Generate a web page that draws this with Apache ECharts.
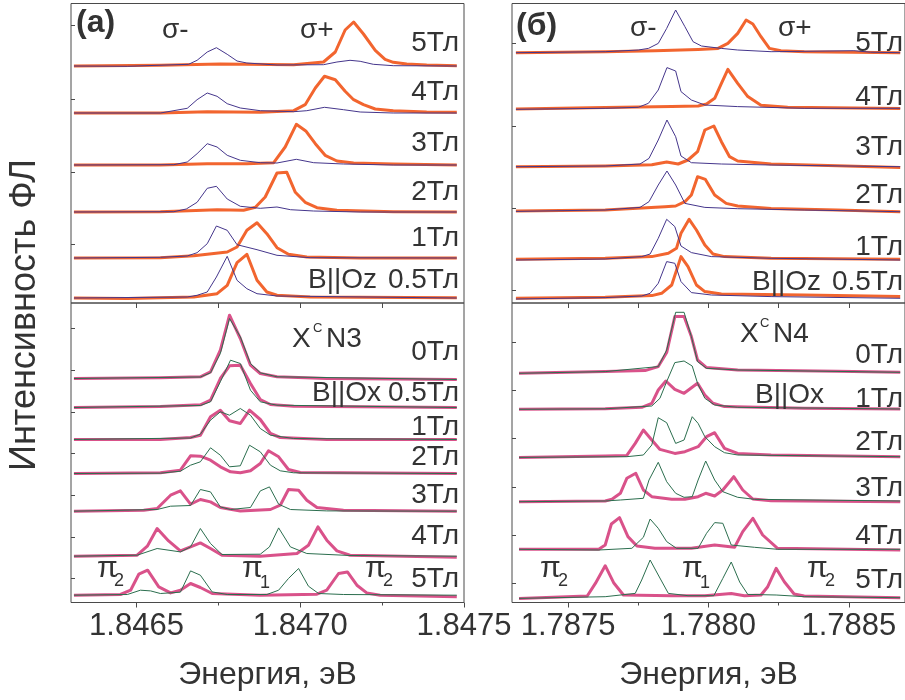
<!DOCTYPE html>
<html><head><meta charset="utf-8">
<script src="https://cdn.jsdelivr.net/npm/echarts@6/dist/echarts.min.js"></script>
<style>html,body{margin:0;padding:0;background:#fff}#c{width:905px;height:700px}</style>
</head><body><div id="c"></div>
<script>
// ---------- tick values ----------
const aXMajor = [1.8465, 1.8470, 1.8475];
const aXMinor = [1.84675, 1.84725];
const bXMajor = [1.7875, 1.7880, 1.7885];
const bXMinor = [1.78775, 1.78825];
const aOzYTicks = [59, 131, 204, 278];
const aOxYTicks = [24.5, 65.5, 107.5, 149.5, 190.5, 232.5, 274.5];
const bOzYTicks = [13, 95, 177, 260];
const bOxYTicks = [19.5, 67.5, 115.5, 164.5, 212.5, 260.5];

// ---------- field labels ----------
const aOzFields = ['5Тл', '4Тл', '3Тл', '2Тл', '1Тл', '0.5Тл'];
const aOxFields = ['0Тл', '0.5Тл', '1Тл', '2Тл', '3Тл', '4Тл', '5Тл'];
const bOzFields = ['5Тл', '4Тл', '3Тл', '2Тл', '1Тл', '0.5Тл'];
const bOxFields = ['0Тл', '1Тл', '2Тл', '3Тл', '4Тл', '5Тл'];

// ---------- vertical offsets of stacked spectra (arb. units) ----------
const aOzOffsets = [237, 190, 138, 91, 45, 5];
const aOxOffsets = [224, 195, 163, 129, 91.3, 46.3, 7.3];
const bOzOffsets = [251.3, 194.7, 136.3, 92.3, 43.7, 4.7];
const bOxOffsets = [230.2, 194.2, 145.8, 101.5, 53.2, 4.8];

// ---------- (a) B||Oz : sigma+ (thick) ----------
const aSigmaPlus = [
 [[1.846309,0],[1.846573,0.7],[1.846756,2],[1.846980,1.3],[1.847071,4],[1.847107,14],[1.847137,36],[1.847163,44],[1.847193,32],[1.847229,15.7],[1.847259,6.7],[1.847284,3.7],[1.847325,2],[1.847386,1],[1.847478,0.3]],
 [[1.846309,0],[1.846573,0],[1.846716,1.3],[1.846878,0.7],[1.846980,2.3],[1.847015,8.3],[1.847046,25],[1.847074,36.7],[1.847107,33.3],[1.847137,21.7],[1.847163,13.3],[1.847193,8.3],[1.847229,4],[1.847284,2.3],[1.847386,1],[1.847478,0.7]],
 [[1.846309,0],[1.846573,0],[1.846716,1.3],[1.846837,1.3],[1.846919,2.3],[1.846954,18],[1.846988,40.7],[1.847018,33.7],[1.847046,21.3],[1.847076,9.7],[1.847112,4],[1.847163,2],[1.847284,1],[1.847478,0]],
 [[1.846309,0],[1.846573,0.3],[1.846746,2.3],[1.846827,1.7],[1.846863,4.7],[1.846893,15],[1.846929,39],[1.846959,39.7],[1.846985,19.7],[1.847015,9.7],[1.847051,4.3],[1.847112,1.7],[1.847284,0.3],[1.847478,0]],
 [[1.846309,0],[1.846573,0.3],[1.846675,2.3],[1.846777,6],[1.846807,11],[1.846837,27.7],[1.846868,35.3],[1.846898,24.3],[1.846929,10.3],[1.846964,3.7],[1.847020,1],[1.847183,0],[1.847478,0]],
 [[1.846309,0],[1.846472,-0.5],[1.846675,1],[1.846746,4.3],[1.846777,12.7],[1.846807,35.3],[1.846837,43.7],[1.846868,17.7],[1.846898,6],[1.846929,2.7],[1.847030,1],[1.847478,0.3]]
];
// ---------- (a) B||Oz : sigma- (thin) ----------
const aSigmaMinus = [
 [[1.846309,0],[1.846472,-0.3],[1.846659,1.7],[1.846685,5.7],[1.846716,14],[1.846744,18.3],[1.846777,11.7],[1.846807,5],[1.846837,3],[1.846929,1],[1.847071,1.3],[1.847112,4],[1.847152,5.7],[1.847183,4.7],[1.847223,1.7],[1.847284,0.3],[1.847478,0]],
 [[1.846309,0],[1.846573,0],[1.846655,4.7],[1.846685,13.3],[1.846716,20],[1.846746,16.7],[1.846777,9.3],[1.846817,5],[1.846878,2.3],[1.846980,1.3],[1.847020,2.3],[1.847074,5.7],[1.847132,3.3],[1.847183,1],[1.847284,0],[1.847478,0]],
 [[1.846309,0],[1.846614,0.3],[1.846655,3],[1.846685,11.3],[1.846716,21.3],[1.846746,18],[1.846777,9.7],[1.846817,4.7],[1.846878,2.3],[1.846929,2],[1.846988,5.7],[1.847041,2.3],[1.847132,1],[1.847284,0],[1.847478,0]],
 [[1.846309,0],[1.846614,0.3],[1.846652,3],[1.846685,9.7],[1.846716,23.7],[1.846744,25.7],[1.846777,13],[1.846817,5.7],[1.846878,3.7],[1.846929,5],[1.846970,2.3],[1.847041,1],[1.847183,0],[1.847478,0]],
 [[1.846309,0],[1.846573,0.7],[1.846655,2],[1.846685,5.3],[1.846716,14.3],[1.846744,32],[1.846777,27.7],[1.846807,13.3],[1.846868,8.3],[1.846929,2.7],[1.847030,0.3],[1.847478,0]],
 [[1.846309,0],[1.846655,1],[1.846685,2.7],[1.846716,6],[1.846744,21],[1.846777,41.7],[1.846807,17.7],[1.846837,9.3],[1.846868,4.3],[1.846929,2],[1.847478,0]]
];
// ---------- (a) B||Ox : thick (pink) ----------
const aPiThick = [
 [[1.846309,0],[1.846573,0.7],[1.846695,1.7],[1.846726,6.7],[1.846756,28.3],[1.846784,63.3],[1.846817,40],[1.846848,13.3],[1.846878,5],[1.846929,1.7],[1.847081,0],[1.847478,-1]],
 [[1.846309,0],[1.846573,1],[1.846695,2.7],[1.846726,7.3],[1.846756,29],[1.846784,41.7],[1.846817,42.3],[1.846848,24],[1.846878,8],[1.846909,3],[1.846980,1.3],[1.847478,0]],
 [[1.846309,0],[1.846573,0],[1.846665,2],[1.846695,4.3],[1.846726,22.7],[1.846756,29.3],[1.846784,18.7],[1.846817,16],[1.846845,29.3],[1.846878,20],[1.846909,6],[1.846939,2],[1.847081,0],[1.847478,0]],
 [[1.846309,0],[1.846573,0.7],[1.846634,3.3],[1.846665,17.7],[1.846695,17.3],[1.846726,13.3],[1.846756,6.7],[1.846787,1.7],[1.846817,0.7],[1.846848,2.7],[1.846878,10],[1.846903,22.7],[1.846934,16.7],[1.846964,4],[1.847000,1],[1.847478,0]],
 [[1.846309,0],[1.846522,1],[1.846563,2.7],[1.846604,16],[1.846634,20.3],[1.846665,7],[1.846695,11.7],[1.846726,9.3],[1.846756,3.7],[1.846817,0.3],[1.846909,1.7],[1.846939,6],[1.846964,21.7],[1.846995,21],[1.847020,11],[1.847051,3.7],[1.847132,1],[1.847478,0]],
 [[1.846309,0],[1.846502,1],[1.846533,10],[1.846563,27.7],[1.846598,15.3],[1.846634,5.3],[1.846665,9.3],[1.846695,13.3],[1.846726,7.7],[1.846761,1],[1.846878,0],[1.846990,2.7],[1.847025,11],[1.847054,29.3],[1.847081,16],[1.847112,5.3],[1.847152,1],[1.847478,-1]],
 [[1.846309,0],[1.846451,0.7],[1.846482,5],[1.846507,21],[1.846534,25],[1.846568,8.3],[1.846604,2.3],[1.846634,5],[1.846665,11.7],[1.846695,7.7],[1.846731,1.7],[1.846878,0],[1.847051,1],[1.847081,5],[1.847117,21.7],[1.847144,23.3],[1.847173,10],[1.847203,2.3],[1.847244,0],[1.847478,-1.5]]
];
// ---------- (a) B||Ox : thin (green) ----------
const aPiThin = [
 [[1.846309,0],[1.846695,1.5],[1.846726,5.7],[1.846756,25],[1.846784,60],[1.846817,41.7],[1.846848,15],[1.846878,5.7],[1.846929,1.7],[1.847478,-1]],
 [[1.846309,0],[1.846695,2],[1.846726,5.7],[1.846756,25.7],[1.846787,47.3],[1.846817,44],[1.846848,17.3],[1.846878,5.7],[1.846929,2.3],[1.847478,0]],
 [[1.846309,0],[1.846665,1.5],[1.846695,5.3],[1.846726,19.3],[1.846756,27.7],[1.846784,24.3],[1.846817,31],[1.846848,24.3],[1.846878,11],[1.846909,4.3],[1.846980,1],[1.847478,0]],
 [[1.846309,0],[1.846573,0.3],[1.846634,2.3],[1.846665,8.3],[1.846695,11.7],[1.846726,25.7],[1.846756,18.3],[1.846784,6.7],[1.846817,7.7],[1.846845,28.3],[1.846878,21.7],[1.846909,8.3],[1.846939,2.7],[1.846980,0.7],[1.847478,0]],
 [[1.846309,0],[1.846563,1.7],[1.846604,5],[1.846665,5.7],[1.846695,21.7],[1.846726,19.3],[1.846756,4.3],[1.846787,1.7],[1.846848,3.7],[1.846878,20.3],[1.846906,24.3],[1.846934,7],[1.846970,1.7],[1.847081,0.3],[1.847478,0]],
 [[1.846309,0],[1.846502,1],[1.846563,7.7],[1.846634,4.3],[1.846665,9.3],[1.846695,27.7],[1.846726,12.7],[1.846761,1.7],[1.846878,2],[1.846906,9.3],[1.846934,28.3],[1.846970,9.3],[1.847020,2.7],[1.847152,0.7],[1.847478,0]],
 [[1.846309,0],[1.846472,0.7],[1.846512,5],[1.846543,4.3],[1.846573,1.7],[1.846634,3],[1.846665,24.3],[1.846695,20],[1.846731,3.3],[1.846777,0.7],[1.846898,0.7],[1.846934,5],[1.846964,16.7],[1.846995,26.7],[1.847025,9],[1.847056,1.7],[1.847132,0.7],[1.847478,0]]
];
// ---------- (б) B||Oz : sigma+ (thick) ----------
const bSigmaPlus = [
 [[1.787314,-1],[1.787632,0],[1.787809,1],[1.787963,2.3],[1.788034,3.3],[1.788069,8.3],[1.788104,18.3],[1.788134,31.7],[1.788158,27.7],[1.788187,15],[1.788217,3.3],[1.788258,1],[1.788341,0],[1.788683,-1]],
 [[1.787314,-0.7],[1.787632,0.7],[1.787869,1.7],[1.787963,2.3],[1.787993,4.3],[1.788022,10],[1.788046,25],[1.788069,39],[1.788104,25],[1.788140,11.7],[1.788187,3],[1.788282,1],[1.788683,-0.3]],
 [[1.787314,0],[1.787632,0.7],[1.787798,2],[1.787851,4.7],[1.787892,2.7],[1.787927,6.7],[1.787961,15],[1.787987,36.7],[1.788019,40.7],[1.788046,25],[1.788075,10],[1.788104,5.7],[1.788223,2.7],[1.788459,1],[1.788683,-0.7]],
 [[1.787314,-0.3],[1.787632,0.7],[1.787845,4],[1.787883,4.7],[1.787916,9],[1.787939,15.7],[1.787961,34],[1.787989,31.3],[1.788022,15.7],[1.788063,7.3],[1.788104,4.7],[1.788223,2.3],[1.788459,0.7],[1.788683,-1]],
 [[1.787314,0],[1.787632,1],[1.787798,2.7],[1.787857,6],[1.787886,11],[1.787902,26],[1.787931,40],[1.787957,29.3],[1.787987,14.3],[1.788016,5.3],[1.788057,2.7],[1.788223,1],[1.788683,0]],
 [[1.787314,0],[1.787632,1],[1.787798,2.7],[1.787833,5],[1.787869,13.3],[1.787902,41.7],[1.787927,31.7],[1.787957,13.3],[1.787987,6.7],[1.788046,4.3],[1.788341,3.3],[1.788683,1.7]]
];
// ---------- (б) B||Oz : sigma- (thin) ----------
const bSigmaMinus = [
 [[1.787314,-1],[1.787632,0],[1.787750,1.7],[1.787786,3.3],[1.787821,8.3],[1.787851,23.3],[1.787883,41.7],[1.787916,25],[1.787945,10],[1.787975,5.7],[1.788046,3.3],[1.788104,1.7],[1.788223,0],[1.788518,1],[1.788577,-0.5],[1.788683,-1]],
 [[1.787314,-1],[1.787632,0],[1.787750,1],[1.787786,5],[1.787821,18.3],[1.787852,40.7],[1.787883,37.3],[1.787902,16.7],[1.787939,8.3],[1.787987,3.3],[1.788104,1.7],[1.788341,0],[1.788683,0]],
 [[1.787314,0],[1.787632,0.7],[1.787756,2.7],[1.787788,8.3],[1.787821,26.7],[1.787852,46.7],[1.787883,30],[1.787902,10.7],[1.787939,4],[1.788046,2.7],[1.788223,1.7],[1.788683,0]],
 [[1.787314,-0.7],[1.787632,0.7],[1.787756,3.3],[1.787788,9],[1.787821,25.7],[1.787852,39.7],[1.787883,25.7],[1.787916,7.3],[1.787987,3.3],[1.788104,2],[1.788341,0.7],[1.788683,-1]],
 [[1.787314,-0.7],[1.787632,0.3],[1.787762,2.7],[1.787792,5.3],[1.787821,21],[1.787851,40],[1.787880,32.7],[1.787902,13.3],[1.787939,6.7],[1.788010,2.7],[1.788223,1],[1.788683,-0.7]],
 [[1.787314,-0.7],[1.787632,0.7],[1.787762,2.3],[1.787792,5],[1.787821,15],[1.787851,36.7],[1.787880,35],[1.787902,16.7],[1.787939,5.7],[1.788010,3.3],[1.788223,1.7],[1.788683,0]]
];
// ---------- (б) B||Ox : thick (pink) ----------
const bPiThick = [
 [[1.787325,-1],[1.787632,0.7],[1.787774,1.7],[1.787821,5.7],[1.787851,19.7],[1.787880,55.7],[1.787913,55.7],[1.787939,35.7],[1.787961,12.3],[1.787993,4.7],[1.788104,2.3],[1.788459,1],[1.788683,0]],
 [[1.787325,-1],[1.787632,-0.5],[1.787762,1],[1.787798,5],[1.787821,18.3],[1.787848,27.3],[1.787880,19],[1.787913,15],[1.787961,25],[1.787987,13.3],[1.788016,5],[1.788057,1.7],[1.788341,0],[1.788683,-0.7]],
 [[1.787325,-0.7],[1.787632,0.7],[1.787709,1.3],[1.787739,13.3],[1.787768,26.7],[1.787798,16.7],[1.787827,7.3],[1.787880,3.3],[1.787916,5],[1.787963,10],[1.787993,20],[1.788022,24],[1.788057,8.3],[1.788104,3.3],[1.788223,1.7],[1.788683,0]],
 [[1.787325,-0.7],[1.787632,0],[1.787656,1.7],[1.787686,7.7],[1.787709,22.7],[1.787741,27.7],[1.787768,11],[1.787798,4.3],[1.787869,1.7],[1.787916,1.7],[1.787963,4.3],[1.787990,7.7],[1.788022,5],[1.788051,11],[1.788090,24.3],[1.788122,11],[1.788158,2],[1.788223,0.3],[1.788683,-0.7]],
 [[1.787325,0],[1.787609,0],[1.787632,4.3],[1.787654,25.3],[1.787683,31.7],[1.787713,12.7],[1.787745,3.3],[1.787809,1],[1.787939,1],[1.788022,4.3],[1.788093,2],[1.788122,17.7],[1.788158,31],[1.788193,14.3],[1.788246,1],[1.788683,-0.7]],
 [[1.787325,-0.7],[1.787568,1.7],[1.787597,14.3],[1.787632,32],[1.787662,15],[1.787697,2.7],[1.787869,2],[1.787987,2],[1.788081,4.3],[1.788128,2],[1.788187,2.7],[1.788211,11],[1.788241,29.3],[1.788270,16],[1.788305,3.7],[1.788341,1.7],[1.788683,0]]
];
// ---------- (б) B||Ox : thin (green) ----------
const bPiThin = [
 [[1.787325,-1],[1.787632,0.7],[1.787821,5.7],[1.787851,22.3],[1.787883,60],[1.787913,60],[1.787939,35.7],[1.787961,10.7],[1.787993,4],[1.788104,2.3],[1.788683,0]],
 [[1.787325,-1],[1.787632,-0.5],[1.787798,2.3],[1.787827,10],[1.787851,26.7],[1.787880,45.7],[1.787913,47.3],[1.787942,42.3],[1.787961,25],[1.787987,10],[1.788022,3.3],[1.788104,1],[1.788683,-0.7]],
 [[1.787325,-0.7],[1.787709,0],[1.787768,1.7],[1.787798,11.7],[1.787821,39],[1.787851,34],[1.787883,13.3],[1.787913,16.7],[1.787942,40],[1.787963,33.3],[1.787987,20],[1.788022,10],[1.788057,4],[1.788104,1.7],[1.788683,0]],
 [[1.787325,-0.7],[1.787632,0],[1.787686,1],[1.787768,2.7],[1.787788,21],[1.787821,38.7],[1.787851,19.3],[1.787883,7.7],[1.787913,3.7],[1.787942,4.3],[1.787963,21],[1.787990,40],[1.788022,21],[1.788051,9.3],[1.788104,3.7],[1.788164,1.7],[1.788683,0]],
 [[1.787325,0],[1.787609,-0.7],[1.787727,1],[1.787768,12],[1.787792,30.3],[1.787821,21],[1.787851,7.7],[1.787886,1],[1.787963,1],[1.787993,16],[1.788022,26.7],[1.788051,26],[1.788081,4.3],[1.788164,2],[1.788246,0],[1.788683,0]],
 [[1.787325,-0.7],[1.787632,1],[1.787739,4.3],[1.787762,17.7],[1.787792,37.7],[1.787821,22.7],[1.787857,4.3],[1.787927,2],[1.788019,2],[1.788051,19.3],[1.788081,35.7],[1.788111,15.7],[1.788140,3.3],[1.788241,2.7],[1.788341,1],[1.788683,0]]
];

// ---------- styling ----------
const ORANGE = '#F2652F', PURPLE = '#45368C', PINK = '#D9528A', GREEN = '#2B6E4E';
const FRAME = '#4a4a4a', TXT = '#333333';
const FONT = '"Liberation Sans", Arial, Helvetica, sans-serif';

function build(curves, offsets, gi, color, width, z) {
  return curves.map((c, i) => ({
    type: 'line', xAxisIndex: gi === 0 ? 0 : gi === 1 ? 1 : gi === 2 ? 3 : 4,
    yAxisIndex: gi, symbol: 'none', showSymbol: false, silent: true,
    data: c.map(p => [p[0], p[1] + offsets[i]]),
    lineStyle: { color, width, join: 'round' }, itemStyle: { color }, z
  }));
}

const series = [].concat(
  build(aSigmaPlus, aOzOffsets, 0, ORANGE, 3, 2),
  build(aSigmaMinus, aOzOffsets, 0, PURPLE, 1, 3),
  build(aPiThick, aOxOffsets, 1, PINK, 3, 2),
  build(aPiThin, aOxOffsets, 1, GREEN, 1, 3),
  build(bSigmaPlus, bOzOffsets, 2, ORANGE, 3, 2),
  build(bSigmaMinus, bOzOffsets, 2, PURPLE, 1, 3),
  build(bPiThick, bOxOffsets, 3, PINK, 3, 2),
  build(bPiThin, bOxOffsets, 3, GREEN, 1, 3)
);

const gridBase = { show: true, borderColor: FRAME, borderWidth: 1, backgroundColor: 'transparent', containLabel: false };
const grids = [
  Object.assign({ left: 71, top: 3.5, width: 393, height: 299.5 }, gridBase),
  Object.assign({ left: 71, top: 303, width: 393, height: 299.5 }, gridBase),
  Object.assign({ left: 512, top: 3.5, width: 394.5, height: 299.5 }, gridBase),
  Object.assign({ left: 512, top: 303, width: 394.5, height: 299.5 }, gridBase)
];

function topAxis(gi, min, max, ticks) {
  return { type: 'value', gridIndex: gi, position: 'top', min, max,
    axisLine: { show: false }, splitLine: { show: false }, axisLabel: { show: false },
    axisTick: { show: true, inside: true, length: 5, customValues: ticks, lineStyle: { color: FRAME } } };
}
function bottomAxis(gi, min, max, major) {
  return { type: 'value', gridIndex: gi, position: 'bottom', min, max,
    axisLine: { show: false }, splitLine: { show: false },
    axisTick: { show: true, inside: false, length: 5, customValues: major, lineStyle: { color: FRAME } },
    axisLabel: { show: true, customValues: major, margin: 8, color: TXT, fontSize: 31, fontFamily: FONT,
      formatter: v => Number(v).toFixed(4) },
    name: 'Энергия, эВ', nameLocation: 'middle', nameGap: 57,
    nameTextStyle: { color: TXT, fontSize: 32, fontFamily: FONT } };
}
function minorAxis(gi, min, max, minor) {
  return { type: 'value', gridIndex: gi, position: 'bottom', offset: 0, min, max,
    axisLine: { show: false }, splitLine: { show: false }, axisLabel: { show: false },
    axisTick: { show: true, inside: false, length: 3, customValues: minor, lineStyle: { color: FRAME } } };
}
const xAxes = [
  topAxis(0, 1.8463, 1.8475, aXMajor.slice(0, 2).concat(aXMinor)),
  bottomAxis(1, 1.8463, 1.8475, aXMajor),
  minorAxis(1, 1.8463, 1.8475, aXMinor),
  topAxis(2, 1.7873, 1.7887, bXMajor.concat(bXMinor)),
  bottomAxis(3, 1.7873, 1.7887, bXMajor),
  minorAxis(3, 1.7873, 1.7887, bXMinor)
];
function yAx(gi, ticks) {
  return { type: 'value', gridIndex: gi, min: 0, max: 299.5,
    axisLine: { show: false }, splitLine: { show: false }, axisLabel: { show: false },
    axisTick: { show: true, inside: true, length: 4, customValues: ticks, lineStyle: { color: FRAME } } };
}
const yAxes = [yAx(0, aOzYTicks), yAx(1, aOxYTicks), yAx(2, bOzYTicks), yAx(3, bOxYTicks)];

// ---------- annotations ----------
function T(text, x, y, size, align, extra) {
  return Object.assign({ type: 'text', x, y, silent: true, z: 100,
    style: { text, fill: TXT, font: (extra && extra.bold ? 'bold ' : '') + size + 'px ' + FONT,
      textAlign: align || 'left', textVerticalAlign: 'middle', align: align || 'left', verticalAlign: 'middle' } },
    extra && extra.rotation ? { rotation: extra.rotation } : {});
}
const aOzLabelY = [43, 92, 143, 192, 238, 280];
const aOxLabelY = [352, 393, 427, 457, 495, 536, 579];
const bOzLabelY = [43, 97, 147, 195, 247, 282];
const bOxLabelY = [355, 399, 442, 488, 536, 580];
const graphics = [];
aOzFields.forEach((f, i) => graphics.push(T(f, 459, aOzLabelY[i], 28, 'right')));
aOxFields.forEach((f, i) => graphics.push(T(f, 459, aOxLabelY[i], 28, 'right')));
bOzFields.forEach((f, i) => graphics.push(T(f, 903, bOzLabelY[i], 28, 'right')));
bOxFields.forEach((f, i) => graphics.push(T(f, 903, bOxLabelY[i], 28, 'right')));
graphics.push(
  T('(a)', 76, 23, 32, 'left', { bold: true }),
  T('(б)', 516, 26, 32, 'left', { bold: true }),
  T('σ-', 162, 30, 28), T('σ+', 300, 30, 28),
  T('σ-', 630, 28, 28), T('σ+', 778, 28, 28),
  T('B||Oz', 308, 280, 28), T('B||Ox', 312, 393, 28),
  T('B||Oz', 752, 282, 28), T('B||Ox', 755, 395, 28),
  T('X', 292, 339, 28), T('C', 313, 328, 13), T('N3', 326, 339, 28),
  T('X', 740, 334, 28), T('C', 760, 323, 13), T('N4', 773, 334, 28),
  T('π', 97, 569, 30), T('2', 114, 581, 18),
  T('π', 242, 569, 30), T('1', 260, 583, 18),
  T('π', 365, 569, 30), T('2', 383, 581, 18),
  T('π', 540, 569, 30), T('2', 558, 581, 18),
  T('π', 682, 569, 30), T('1', 700, 583, 18),
  T('π', 807, 569, 30), T('2', 825, 581, 18),
  T('Интенсивность ФЛ', 25, 315, 36, 'center', { rotation: Math.PI / 2 })
);

const chart = echarts.init(document.getElementById('c'), null, { renderer: 'canvas' });
chart.setOption({
  animation: false,
  backgroundColor: '#ffffff',
  grid: grids, xAxis: xAxes, yAxis: yAxes, series, graphic: graphics
});
</script></body></html>
